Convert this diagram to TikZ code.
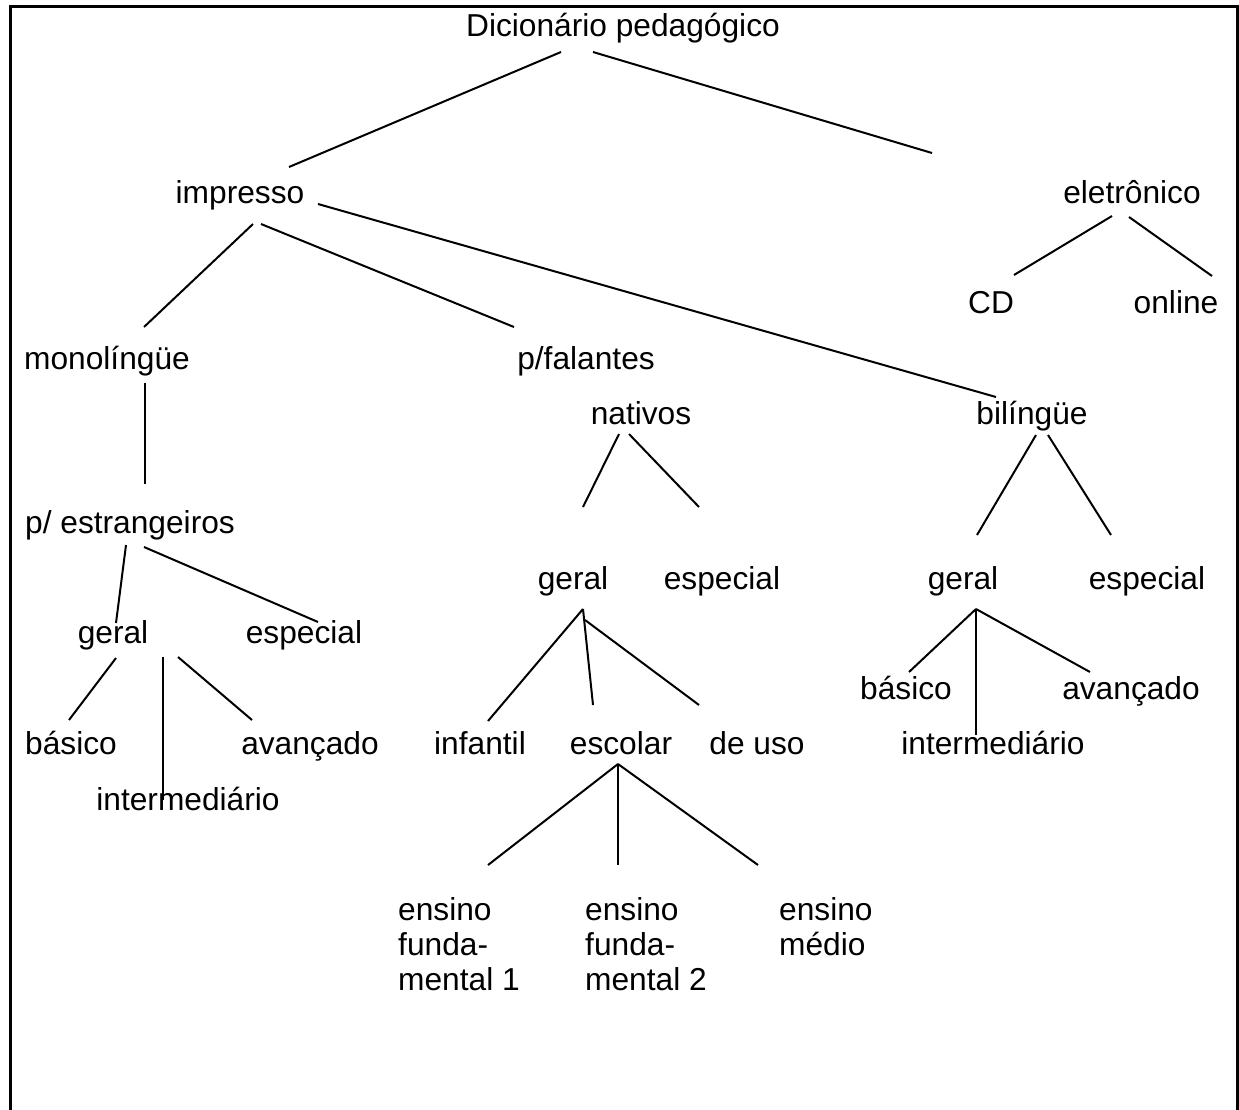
\documentclass[tikz,border=0pt]{standalone}
\usepackage{fontspec}
\setmainfont{Liberation Sans}
\begin{document}
\begin{tikzpicture}[x=1pt,y=-1pt,
  lbl/.style={inner sep=0pt, anchor=base, font=\fontsize{31.7}{35}\selectfont},
  mlbl/.style={lbl, anchor=base west},
  edge/.style={line width=2pt},
  frame/.style={line width=2.7pt}]
\useasboundingbox (0,0) rectangle (1239,1109);
\clip (0,0) rectangle (1239,1109);
\draw[frame] (10.7,6.7) rectangle (1237.8,1130);

% nodes
\node[lbl] (dic)  at (623,36)  {Dicionário pedagógico};
\node[lbl] (imp)  at (240,203) {impresso};
\node[lbl] (ele)  at (1132,203) {eletrônico};
\node[lbl] (cd)   at (991,313) {CD};
\node[lbl] (onl)  at (1176,313) {online};
\node[lbl] (mono) at (107,369) {monolíngüe};
\node[lbl] (pfal) at (586,369) {p/falantes};
\node[lbl] (nat)  at (641,424) {nativos};
\node[lbl] (bil)  at (1032,424) {bilíngüe};
\node[lbl] (pest) at (130,533) {p/ estrangeiros};
\node[lbl] (gerL) at (113,643) {geral};
\node[lbl] (espL) at (304,643) {especial};
\node[lbl] (basL) at (71,754)  {básico};
\node[lbl] (avaL) at (310,754) {avançado};
\node[lbl] (intL) at (188,810) {intermediário};
\node[lbl] (gerM) at (573,589) {geral};
\node[lbl] (espM) at (722,589) {especial};
\node[lbl] (inf)  at (480,754) {infantil};
\node[lbl] (esc)  at (621,754) {escolar};
\node[lbl] (deu)  at (757,754) {de uso};
\node[mlbl] (ef1) at (398,920) {\vtop{\hbox{ensino}\hbox{funda-}\hbox{mental 1}}};
\node[mlbl] (ef2) at (585,920) {\vtop{\hbox{ensino}\hbox{funda-}\hbox{mental 2}}};
\node[mlbl] (em)  at (779,920) {\vtop{\hbox{ensino}\hbox{médio}}};
\node[lbl] (gerR) at (963,589) {geral};
\node[lbl] (espR) at (1147,589) {especial};
\node[lbl] (basR) at (906,699) {básico};
\node[lbl] (avaR) at (1131,699) {avançado};
\node[lbl] (intR) at (993,754) {intermediário};

% connector end points
\coordinate (dicA) at (561,52);   \coordinate (impT) at (289,167);
\coordinate (dicB) at (593,52);   \coordinate (eleT) at (932,153);
\coordinate (impA) at (253,224);  \coordinate (monoT) at (144,327);
\coordinate (impB) at (261,224);  \coordinate (pfalT) at (514,327);
\coordinate (impC) at (318,204);  \coordinate (bilT) at (996,397);
\coordinate (eleA) at (1112,216); \coordinate (cdT) at (1014,275);
\coordinate (eleB) at (1129,217); \coordinate (onlT) at (1212,276);
\coordinate (monoB) at (145,383); \coordinate (pestT) at (145,484);
\coordinate (pestA) at (126,545); \coordinate (gerLT) at (116,623);
\coordinate (pestB) at (144,547); \coordinate (espLT) at (318,622);
\coordinate (gerLA) at (116,658); \coordinate (basLT) at (69,720);
\coordinate (gerLB) at (163,657); \coordinate (intLT) at (163,800);
\coordinate (gerLC) at (178,657); \coordinate (avaLT) at (252,720);
\coordinate (natA) at (619,434);  \coordinate (gerMT) at (583,507);
\coordinate (natB) at (629,434);  \coordinate (espMT) at (699,507);
\coordinate (gerMA) at (583,609); \coordinate (infT) at (488,721);
\coordinate (gerMB) at (583,609); \coordinate (escT) at (593,705);
\coordinate (gerMC) at (585,620); \coordinate (deuT) at (699,705);
\coordinate (escA) at (618,764);  \coordinate (ef1T) at (488,865);
                                  \coordinate (ef2T) at (618,865);
                                  \coordinate (emT) at (758,865);
\coordinate (bilA) at (1036,435); \coordinate (gerRT) at (977,535);
\coordinate (bilB) at (1048,435); \coordinate (espRT) at (1111,535);
\coordinate (gerRA) at (976,609); \coordinate (basRT) at (909,672);
                                  \coordinate (intRT) at (976,735);
                                  \coordinate (avaRT) at (1090,672);

% connectors
\draw[edge] (dicA) -- (impT);
\draw[edge] (dicB) -- (eleT);
\draw[edge] (impA) -- (monoT);
\draw[edge] (impB) -- (pfalT);
\draw[edge] (impC) -- (bilT);
\draw[edge] (eleA) -- (cdT);
\draw[edge] (eleB) -- (onlT);
\draw[edge] (monoB) -- (pestT);
\draw[edge] (pestA) -- (gerLT);
\draw[edge] (pestB) -- (espLT);
\draw[edge] (gerLA) -- (basLT);
\draw[edge] (gerLB) -- (intLT);
\draw[edge] (gerLC) -- (avaLT);
\draw[edge] (natA) -- (gerMT);
\draw[edge] (natB) -- (espMT);
\draw[edge] (gerMA) -- (infT);
\draw[edge] (gerMB) -- (escT);
\draw[edge] (gerMC) -- (deuT);
\draw[edge] (escA) -- (ef1T);
\draw[edge] (escA) -- (ef2T);
\draw[edge] (escA) -- (emT);
\draw[edge] (bilA) -- (gerRT);
\draw[edge] (bilB) -- (espRT);
\draw[edge] (gerRA) -- (basRT);
\draw[edge] (gerRA) -- (intRT);
\draw[edge] (gerRA) -- (avaRT);
\end{tikzpicture}
\end{document}
